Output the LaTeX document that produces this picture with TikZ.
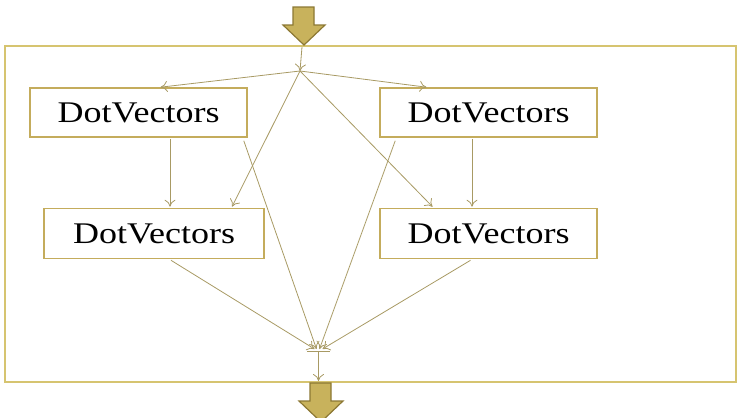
\documentclass[tikz,border=0pt]{standalone}
\usepackage{fontspec}
\setmainfont{Liberation Serif}
\newfontfamily\boxfont[FakeStretch=1.2]{Liberation Serif}
\usetikzlibrary{calc,arrows.meta}

\definecolor{wire}{RGB}{168,154,100}
\definecolor{boxline}{RGB}{196,172,92}
\definecolor{frameline}{RGB}{214,196,112}
\definecolor{bigfill}{RGB}{200,178,92}
\definecolor{bigedge}{RGB}{140,120,52}

\tikzset{
  vecbox/.style={draw=boxline, line width=1.6pt, fill=white,
    minimum width=217pt, minimum height=49pt, inner sep=0pt,
    font=\boxfont\fontsize{30}{32}\selectfont},
  flow/.style={draw=wire, line width=0.8pt,
    -{To[length=7pt,width=11pt]}},
  plain/.style={draw=wire, line width=0.8pt},
  bigarrow/.style={fill=bigfill, draw=bigedge, line width=1.2pt, line join=miter}
}

\begin{document}
\begin{tikzpicture}[x=1pt,y=-1pt]
  \useasboundingbox (0,0) rectangle (737,418);

  % outer frame
  \draw[frameline, line width=1.8pt] (5,46) rectangle (736,382);

  % thick in/out arrows
  \draw[bigarrow] (293,7) -- (314,7) -- (314,25) -- (325,25) -- (304,45)
    -- (283,25) -- (293,25) -- cycle;
  \draw[bigarrow] (310,383) -- (331,383) -- (331,401) -- (343,401) -- (321,422)
    -- (299,401) -- (310,401) -- cycle;

  % the four boxes
  \node[vecbox] (tl) at (138.5,112.5) {DotVectors};
  \node[vecbox] (tr) at (488.5,112.5) {DotVectors};
  \node[vecbox, minimum width=220pt, minimum height=50pt] (bl) at (154,233.5) {DotVectors};
  \node[vecbox, minimum height=50pt] (br) at (488.5,233.5) {DotVectors};

  % fork and join points
  \coordinate (in) at (302,47);
  \coordinate (fork) at (300,71);
  \coordinate (join) at (318.5,351);
  \coordinate (out) at (318.5,381);

  \draw[flow] (in) -- (fork);
  \draw[flow] (fork) -- ($(tl.north)+(22,0)$);
  \draw[flow] (fork) -- ($(tr.north)+(-62,0)$);
  \draw[flow] (fork) -- ($(bl.north)+(78,-1)$);
  \draw[flow] (fork) -- ($(br.north)+(-56,-1)$);

  \draw[flow] ($(tl.south)+(31.5,1)$) -- ($(bl.north)+(16,-1)$);
  \draw[flow] ($(tr.south)+(-16.5,1)$) -- ($(br.north)+(-16.5,-1)$);

  \draw[flow] ($(tl.south east)+(-4,3)$) -- ($(join)+(-2,-2)$);
  \draw[flow] ($(tr.south west)+(16,3)$) -- ($(join)+(1,-2)$);
  \draw[flow] ($(bl.south)+(17,1)$) -- ($(join)+(-4,-2)$);
  \draw[flow] ($(br.south)+(-18,1)$) -- ($(join)+(4,-2)$);

  % join bar and exit
  \draw[plain] ($(join)+(-11.5,0)$) -- ($(join)+(11.5,0)$);
  \draw[flow] (join) -- (out);
\end{tikzpicture}
\end{document}
